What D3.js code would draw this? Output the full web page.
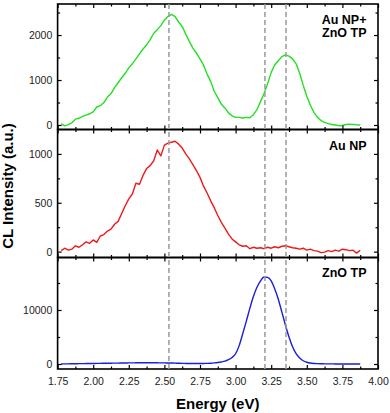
<!DOCTYPE html>
<html>
<head>
<meta charset="utf-8">
<script src="https://cdn.jsdelivr.net/npm/d3@7"></script>
<style>
  body { margin: 0; background: #fff; }
  svg { display: block; font-family: "Liberation Sans", Arial, sans-serif; }
  .tick text { font-size: 10.5px; fill: #222; }
  .tick line { stroke: #000; stroke-width: 1.2; }
  .axis path { display: none; }
  .title { font-weight: bold; fill: #000; }
</style>
</head>
<body>
<svg id="chart" width="390" height="413"></svg>
<script>
// energy grid (eV)
const energy = [1.775,1.8,1.825,1.85,1.875,1.9,1.925,1.95,1.975,
  2.0,2.025,2.05,2.075,2.1,2.125,2.15,2.175,2.2,2.225,2.25,2.275,2.3,2.325,2.35,2.375,2.4,2.425,2.45,2.475,
  2.5,2.525,2.55,2.575,2.6,2.625,2.65,2.675,2.7,2.725,2.75,2.775,2.8,2.825,2.85,2.875,2.9,2.925,2.95,2.975,
  3.0,3.025,3.05,3.075,3.1,3.125,3.15,3.175,3.2,3.225,3.25,3.275,3.3,3.325,3.35,3.375,3.4,3.425,3.45,3.475,
  3.5,3.525,3.55,3.575,3.6,3.625,3.65,3.675,3.7,3.725,3.75,3.775,3.8,3.825,3.85,3.875]

// Au NP + ZnO TP (green)
const auZnO = [30,-20,10,50,130,150,190,220,250,
  290,400,430,500,620,700,830,940,1050,1150,1270,1360,1470,1580,1690,1780,1900,2040,2120,2210,
  2330,2410,2460,2410,2290,2190,2020,1860,1710,1600,1470,1330,1130,970,750,610,460,380,270,205,
  170,170,155,170,160,230,340,520,700,920,1170,1340,1430,1520,1560,1530,1470,1360,1150,880,
  640,440,280,170,100,60,30,10,0,-15,-10,10,20,15,5,0]

// Au NP (red)
const auNP = [10,35,15,25,60,45,70,100,85,
  120,95,160,175,210,230,280,310,390,470,540,590,700,690,780,850,880,930,1040,980,
  1090,1110,1120,1130,1100,1060,1000,950,890,830,760,670,600,520,450,370,300,240,180,130,
  100,70,55,60,30,45,35,40,30,45,35,50,40,55,60,50,40,35,25,35,
  15,25,10,5,-10,-5,10,0,15,5,25,20,10,15,-15,15]

// ZnO TP (blue)
const znoTP = [0,20,30,40,50,60,70,80,90,
  100,110,120,130,140,150,160,170,180,190,200,210,220,230,230,240,240,230,220,210,
  200,190,180,160,140,120,100,90,80,80,90,100,120,150,200,270,370,520,800,1200,
  1900,3400,5600,7900,10300,12500,14200,15400,16100,16050,15400,13900,12000,9600,7200,5000,3200,1900,1100,600,
  330,180,100,60,40,30,20,20,10,10,10,0,0,0,0,0]

// reference energies (dashed lines)
const markers = [2.532, 3.206, 3.354]

// tick values
const xTicks = [1.75,2.0,2.25,2.5,2.75,3.0,3.25,3.5,3.75,4.0]
const xMinor = [1.875,2.125,2.375,2.625,2.875,3.125,3.375,3.625,3.875]
const yTicksTop = [0,1000,2000], yMinorTop = [500,1500,2500]
const yTicksMid = [0,500,1000], yMinorMid = [250,750]
const yTicksBot = [0,10000], yMinorBot = [5000,15000]

const svg = d3.select("#chart")
const left = 57.6, right = 378

let xScale = d3.scaleLinear().domain([1.75, 4.0]).range([left, right])

const panels = [
  {values: auZnO, color: "#22e022", top: 4, bottom: 129.5, domain: [-100, 2690],
   major: yTicksTop, minor: yMinorTop, label: ["Au NP+", "ZnO TP"], labelY: 23.5, curve: d3.curveLinear},
  {values: auNP, color: "#ee1a1a", top: 129.5, bottom: 257.5, domain: [-60, 1250],
   major: yTicksMid, minor: yMinorMid, label: ["Au NP"], labelY: 150, curve: d3.curveLinear},
  {values: znoTP, color: "#1c1cdc", top: 257.5, bottom: 369, domain: [-926, 19720],
   major: yTicksBot, minor: yMinorBot, label: ["ZnO TP"], labelY: 277, curve: d3.curveMonotoneX}
]

panels.forEach(function (p, k) {
  let yScale = d3.scaleLinear().domain(p.domain).range([p.bottom, p.top])
  let g = svg.append("g")

  g.append("clipPath").attr("id", "clip" + k)
    .append("rect").attr("x", left).attr("y", p.top)
    .attr("width", right - left).attr("height", p.bottom - p.top)

  let line = d3.line()
    .x(function (d, i) { return xScale(energy[i]) })
    .y(function (d) { return yScale(d) })
    .curve(p.curve)

  g.append("path")
    .datum(p.values)
    .attr("clip-path", `url(#clip${k})`)
    .attr("fill", "none")
    .attr("stroke", p.color)
    .attr("stroke-width", 1.4)
    .attr("stroke-linejoin", "round")
    .attr("d", line)

  // left axis with labels
  g.append("g").attr("class", "axis")
    .attr("transform", `translate(${left},0)`)
    .call(d3.axisLeft(yScale).tickValues(p.major).tickSize(-4).tickPadding(5.3).tickFormat(d3.format("d")))
  g.append("g").attr("class", "axis")
    .attr("transform", `translate(${left},0)`)
    .call(d3.axisLeft(yScale).tickValues(p.minor).tickSize(-2.5).tickFormat(""))
  // right axis
  g.append("g").attr("class", "axis")
    .attr("transform", `translate(${right},0)`)
    .call(d3.axisRight(yScale).tickValues(p.major).tickSize(-4).tickFormat(""))
  g.append("g").attr("class", "axis")
    .attr("transform", `translate(${right},0)`)
    .call(d3.axisRight(yScale).tickValues(p.minor).tickSize(-2.5).tickFormat(""))
  // top axis
  g.append("g").attr("class", "axis")
    .attr("transform", `translate(0,${p.top})`)
    .call(d3.axisTop(xScale).tickValues(xTicks).tickSize(-4).tickFormat(""))
  g.append("g").attr("class", "axis")
    .attr("transform", `translate(0,${p.top})`)
    .call(d3.axisTop(xScale).tickValues(xMinor).tickSize(-2.5).tickFormat(""))
  // bottom axis (labels only on the last panel)
  let xb = d3.axisBottom(xScale).tickValues(xTicks).tickSize(-4).tickPadding(8.5)
  if (k < panels.length - 1) xb.tickFormat("")
  else xb.tickFormat(d3.format(".2f"))
  g.append("g").attr("class", "axis")
    .attr("transform", `translate(0,${p.bottom})`)
    .call(xb)
  g.append("g").attr("class", "axis")
    .attr("transform", `translate(0,${p.bottom})`)
    .call(d3.axisBottom(xScale).tickValues(xMinor).tickSize(-2.5).tickFormat(""))

  // frame
  g.append("rect")
    .attr("x", left).attr("y", p.top)
    .attr("width", right - left).attr("height", p.bottom - p.top)
    .attr("fill", "none").attr("stroke", "#000").attr("stroke-width", 1.6)

  // panel label
  let t = g.append("text").attr("class", "title")
    .attr("text-anchor", "end")
    .attr("font-size", "12.5px")
  p.label.forEach(function (s, i) {
    t.append("tspan").attr("x", 366.5).attr("y", p.labelY + i * 13.4).text(s)
  })
})

// dashed reference lines across all panels
svg.selectAll(".marker")
  .data(markers)
  .enter()
  .append("line")
  .attr("class", "marker")
  .attr("x1", function (d) { return xScale(d) })
  .attr("x2", function (d) { return xScale(d) })
  .attr("y1", panels[0].top)
  .attr("y2", panels[2].bottom)
  .attr("stroke", "#9a9a9a")
  .attr("stroke-width", 1.5)
  .attr("stroke-dasharray", "5,3")

// axis titles
svg.append("text").attr("class", "title")
  .attr("x", (left + right) / 2).attr("y", 409)
  .attr("text-anchor", "middle")
  .attr("font-size", "15px")
  .text("Energy (eV)")

svg.append("text").attr("class", "title")
  .attr("transform", "translate(12.5,186) rotate(-90)")
  .attr("text-anchor", "middle")
  .attr("font-size", "15px")
  .text("CL Intensity (a.u.)")
</script>
</body>
</html>
